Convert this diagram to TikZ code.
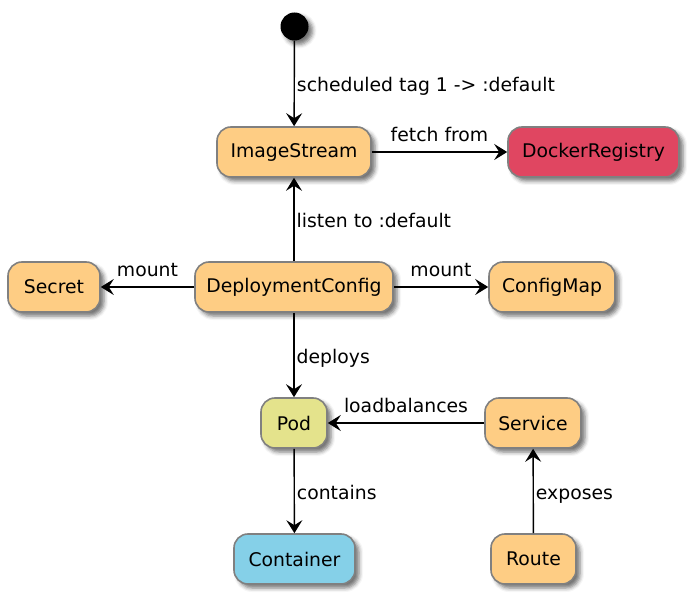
\documentclass[tikz,border=0pt]{standalone}
\usepackage{fontspec}
\setmainfont{DejaVu Sans}
\usetikzlibrary{arrows.meta,shadows.blur}
\definecolor{stOrange}{RGB}{254,205,132}
\definecolor{stPod}{RGB}{228,227,140}
\definecolor{stSky}{RGB}{133,208,232}
\definecolor{stRed}{RGB}{224,70,97}
\begin{document}
\begin{tikzpicture}[x=1pt, y=-1pt,
            font=\fontsize{18.8}{22}\selectfont,
            state/.style={draw=gray, line width=1.6pt, rounded corners=14pt, fill=stOrange,
                minimum height=50pt, inner sep=0pt,
                blur shadow={shadow xshift=4pt, shadow yshift=-4pt, shadow blur radius=4pt, shadow opacity=55}},
            startdot/.style={circle, fill=black, minimum size=28pt, inner sep=0pt,
                blur shadow={shadow xshift=4pt, shadow yshift=-4pt, shadow blur radius=4pt, shadow opacity=55}},
            link/.style={line width=1.4pt, -{Stealth[length=13pt, width=16pt, inset=5pt]}},
            lbl/.style={inner sep=2pt, text height=18pt, text depth=1pt},
        ]
        \useasboundingbox (0,0) rectangle (694,601);

        \node[startdot] (start) at (294.5,26.5) {};
        \node[state, minimum width=154pt] (imgStream) at (294,152) {ImageStream};
        \node[state, minimum width=171pt, fill=stRed] (dockerReg) at (593.5,152) {DockerRegistry};
        \node[state, minimum width=92pt] (secret) at (54,287) {Secret};
        \node[state, minimum width=198pt] (deployCfg) at (294,287) {DeploymentConfig};
        \node[state, minimum width=126pt] (configMap) at (552,287) {ConfigMap};
        \node[state, minimum width=66pt, fill=stPod] (pod) at (294,423) {Pod};
        \node[state, minimum width=96pt] (service) at (533,423) {Service};
        \node[state, minimum width=121pt, fill=stSky] (container) at (294.5,559) {Container};
        \node[state, minimum width=85pt] (route) at (533.5,559) {Route};

        \draw[link] (start) -- node[right, lbl] {scheduled tag 1 -> :default} (imgStream);
        \draw[link] (imgStream) -- node[above=7pt, lbl] {fetch from} (dockerReg);
        \draw[link] (deployCfg) -- node[right, lbl] {listen to :default} (imgStream);
        \draw[link] (deployCfg) -- node[above=7pt, lbl] {mount} (secret);
        \draw[link] (deployCfg) -- node[above=7pt, lbl] {mount} (configMap);
        \draw[link] (deployCfg) -- node[right, lbl] {deploys} (pod);
        \draw[link] (service) -- node[above=7pt, lbl] {loadbalances} (pod);
        \draw[link] (pod) -- node[right, lbl] {contains} (container);
        \draw[link] (route) -- node[right, lbl] {exposes} (service);
    \end{tikzpicture}
\end{document}
